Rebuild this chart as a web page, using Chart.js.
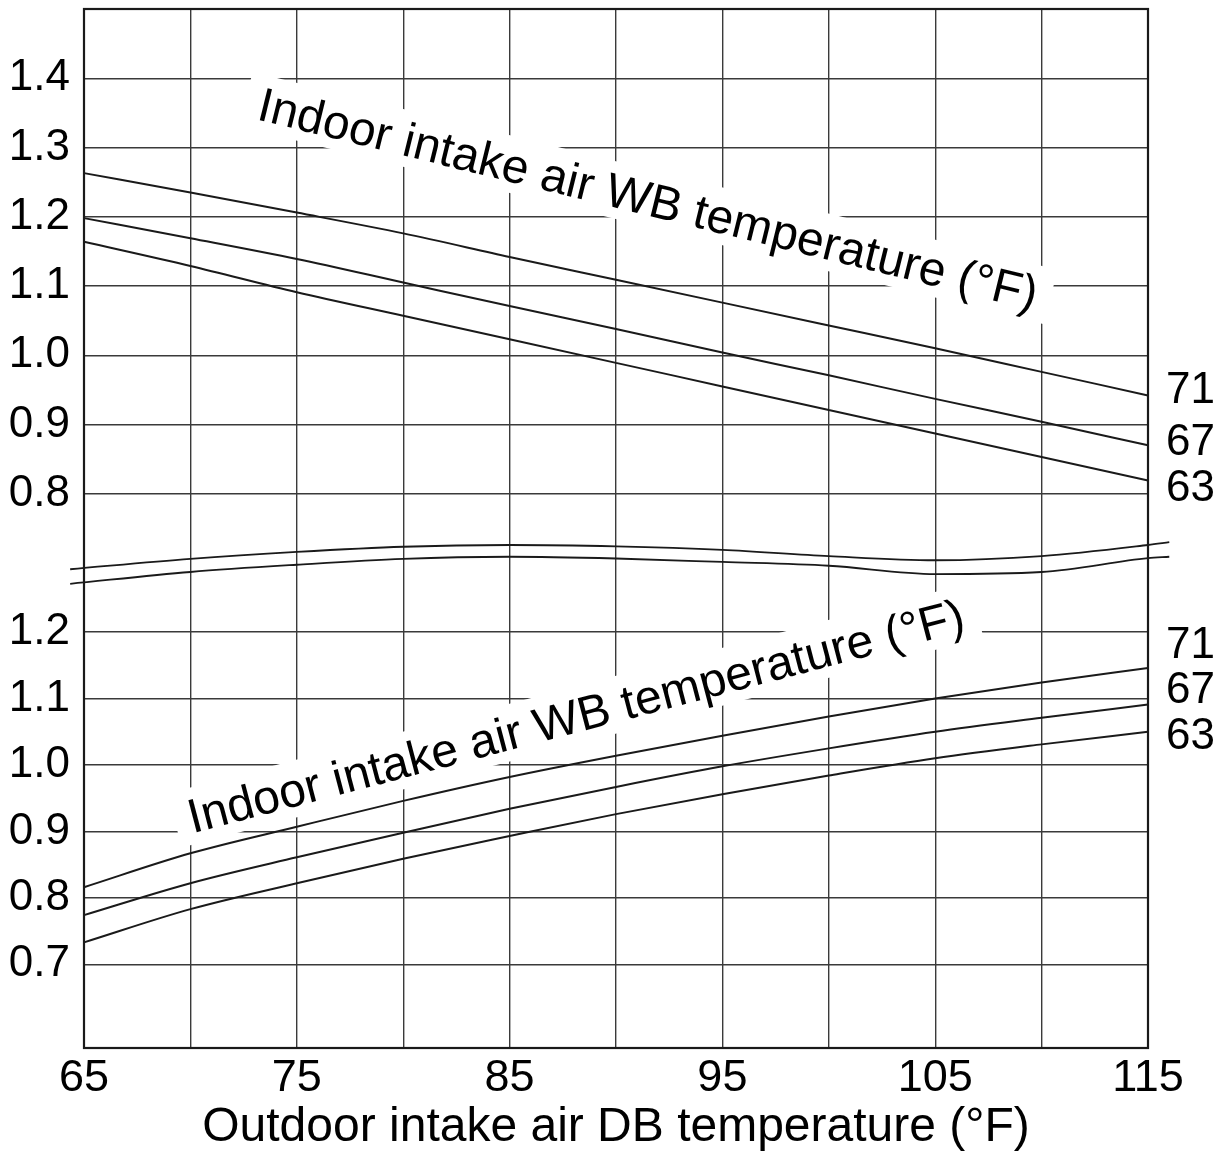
<!DOCTYPE html>
<html>
<head>
<meta charset="utf-8">
<title>Capacity correction curves</title>
<script src="https://cdn.jsdelivr.net/npm/chart.js@4.4.1/dist/chart.umd.min.js"></script>
<style>
  html, body { margin: 0; padding: 0; background: #fff; }
  #wrap { width: 1221px; height: 1157px; }
</style>
</head>
<body>
<div id="wrap"><canvas id="chart" width="1221" height="1157"></canvas></div>
<script>
// outdoor DB temperature (°F) where the curves were read
var dbTemps = [65, 70, 75, 80, 85, 90, 95, 100, 105, 110, 115];
var gridTemps = [65, 70, 75, 80, 85, 90, 95, 100, 105, 110, 115];
var xTickLabels = [65, 75, 85, 95, 105, 115];

// indoor WB curves
var wbLabels = ['71', '67', '63'];

// upper panel (capacity ratio)
var upperTicks = [0.8, 0.9, 1.0, 1.1, 1.2, 1.3, 1.4];
var upper71 = [1.263, 1.235, 1.206, 1.176, 1.142, 1.109, 1.076, 1.043, 1.010, 0.976, 0.942];
var upper67 = [1.198, 1.169, 1.139, 1.105, 1.071, 1.038, 1.004, 0.971, 0.937, 0.904, 0.870];
var upper63 = [1.164, 1.129, 1.091, 1.057, 1.023, 0.989, 0.955, 0.921, 0.887, 0.853, 0.819];

// lower panel (input ratio)
var lowerTicks = [0.7, 0.8, 0.9, 1.0, 1.1, 1.2];
var lower71 = [0.816, 0.867, 0.907, 0.946, 0.982, 1.014, 1.044, 1.073, 1.100, 1.124, 1.146];
var lower67 = [0.774, 0.822, 0.861, 0.898, 0.934, 0.967, 0.998, 1.025, 1.050, 1.071, 1.091];
var lower63 = [0.733, 0.783, 0.822, 0.859, 0.893, 0.926, 0.956, 0.984, 1.010, 1.031, 1.050];

// axis break marks (read against the upper scale)
var breakX = [64.35, 70, 75, 80, 85, 90, 95, 100, 105, 110, 115, 116];
var breakTop = [0.691, 0.706, 0.716, 0.7235, 0.726, 0.724, 0.719, 0.710, 0.704, 0.710, 0.726, 0.730];
var breakBottom = [0.670, 0.687, 0.6975, 0.706, 0.709, 0.7065, 0.7015, 0.696, 0.684, 0.687, 0.707, 0.709];

var FONT = "'Liberation Sans', Arial, Helvetica, sans-serif";
var INK = '#1a1a1a';
var GRID = '#3a3a3a';

function curve(label, xs, values, axis, width) {
  var pts = xs.map(function (t, i) { return {x: t, y: values[i]}; });
  return {
    label: label,
    data: pts,
    yAxisID: axis,
    borderColor: INK,
    borderWidth: width,
    pointRadius: 0,
    cubicInterpolationMode: 'monotone',
    capBezierPoints: false,
    clip: false,
    fill: false
  };
}

// break marks run past both plot edges; feed them right-to-left so
// chart.js doesn't trim the points outside the x range
function breakMark(values) {
  var ds = curve('break', breakX, values, 'yTop', 1.8);
  ds.data = ds.data.slice().reverse();
  return ds;
}

var decorations = {
  id: 'decorations',
  beforeDatasetsDraw: function (chart, args, opts) {
    var ctx = chart.ctx;
    var area = chart.chartArea;

    opts.captions.forEach(function (c) {
      var px = chart.scales.x.getPixelForValue(c.x);
      var py = chart.scales[c.axis].getPixelForValue(c.y);
      ctx.save();
      ctx.translate(px, py);
      ctx.rotate(c.angle * Math.PI / 180);
      ctx.font = opts.captionSize + 'px ' + FONT;
      var m = ctx.measureText(c.text);
      var asc = m.fontBoundingBoxAscent || opts.captionSize * 0.905;
      var desc = m.fontBoundingBoxDescent || opts.captionSize * 0.212;
      ctx.fillStyle = '#fff';
      ctx.fillRect(-m.width / 2 - 14, -asc - 2, m.width + 28, asc + desc + 3);
      ctx.fillStyle = '#000';
      ctx.textAlign = 'center';
      ctx.textBaseline = 'alphabetic';
      ctx.fillText(c.text, 0, 0);
      ctx.restore();
    });

    ctx.save();
    ctx.strokeStyle = INK;
    ctx.lineWidth = 2.2;
    ctx.strokeRect(area.left, area.top, area.right - area.left, area.bottom - area.top);
    ctx.restore();
  },
  afterDraw: function (chart, args, opts) {
    var ctx = chart.ctx;
    var area = chart.chartArea;
    ctx.save();
    ctx.font = opts.endSize + 'px ' + FONT;
    ctx.fillStyle = '#000';
    ctx.textAlign = 'left';
    ctx.textBaseline = 'middle';
    opts.endLabels.forEach(function (l) {
      ctx.fillText(l.text, area.right + 18, chart.scales[l.axis].getPixelForValue(l.y));
    });
    ctx.restore();
  }
};

var yFit = function (scale) {
  scale.width = 84;
  scale.paddingTop = 0;
  scale.paddingBottom = 0;
};
var yTickFont = {family: FONT, size: 44};

new Chart(document.getElementById('chart'), {
  type: 'line',
  data: {
    datasets: [
      curve(wbLabels[0], dbTemps, upper71, 'yTop', 2),
      curve(wbLabels[1], dbTemps, upper67, 'yTop', 2),
      curve(wbLabels[2], dbTemps, upper63, 'yTop', 2),
      curve(wbLabels[0], dbTemps, lower71, 'yBottom', 2),
      curve(wbLabels[1], dbTemps, lower67, 'yBottom', 2),
      curve(wbLabels[2], dbTemps, lower63, 'yBottom', 2),
      breakMark(breakTop),
      breakMark(breakBottom)
    ]
  },
  options: {
    responsive: false,
    animation: false,
    devicePixelRatio: 1,
    layout: {padding: {top: 9, right: 73, bottom: 0, left: 0}},
    plugins: {
      legend: {display: false},
      tooltip: {enabled: false},
      decorations: {
        captionSize: 48,
        captions: [
          {text: 'Indoor intake air WB temperature (°F)', x: 91.33, y: 1.203, axis: 'yTop', angle: 13.8},
          {text: 'Indoor intake air WB temperature (°F)', x: 88.3, y: 1.05, axis: 'yBottom', angle: -14.7}
        ],
        endSize: 44,
        endLabels: [
          {text: wbLabels[0], axis: 'yTop', y: 0.948},
          {text: wbLabels[1], axis: 'yTop', y: 0.874},
          {text: wbLabels[2], axis: 'yTop', y: 0.8065},
          {text: wbLabels[0], axis: 'yBottom', y: 1.179},
          {text: wbLabels[1], axis: 'yBottom', y: 1.111},
          {text: wbLabels[2], axis: 'yBottom', y: 1.043}
        ]
      }
    },
    scales: {
      x: {
        type: 'linear',
        min: 65,
        max: 115,
        afterBuildTicks: function (s) { s.ticks = gridTemps.map(function (v) { return {value: v}; }); },
        afterFit: function (s) { s.height = 109; },
        ticks: {
          autoSkip: false,
          maxRotation: 0,
          padding: 4,
          color: '#000',
          font: {family: FONT, size: 45},
          callback: function (v) { return xTickLabels.indexOf(v) >= 0 ? String(v) : ''; }
        },
        grid: {color: GRID, lineWidth: 1.4, drawTicks: false},
        border: {display: false},
        title: {
          display: true,
          text: 'Outdoor intake air DB temperature (°F)',
          color: '#000',
          padding: 0,
          font: {family: FONT, size: 48}
        }
      },
      yBottom: {
        type: 'linear',
        position: 'left',
        stack: 'panels',
        stackWeight: 485,
        min: 0.574,
        max: 1.304,
        afterBuildTicks: function (s) { s.ticks = lowerTicks.map(function (v) { return {value: v}; }); },
        afterFit: yFit,
        ticks: {autoSkip: false, padding: 14, color: '#000', font: yTickFont, callback: function (v) { return v.toFixed(1); }},
        grid: {color: GRID, lineWidth: 1.4, drawTicks: false},
        border: {display: false}
      },
      yTop: {
        type: 'linear',
        position: 'left',
        stack: 'panels',
        stackWeight: 554,
        min: 0.7,
        max: 1.5,
        afterBuildTicks: function (s) { s.ticks = upperTicks.map(function (v) { return {value: v}; }); },
        afterFit: yFit,
        ticks: {autoSkip: false, padding: 14, color: '#000', font: yTickFont, callback: function (v) { return v.toFixed(1); }},
        grid: {color: GRID, lineWidth: 1.4, drawTicks: false},
        border: {display: false}
      }
    }
  },
  plugins: [decorations]
});
</script>
</body>
</html>
